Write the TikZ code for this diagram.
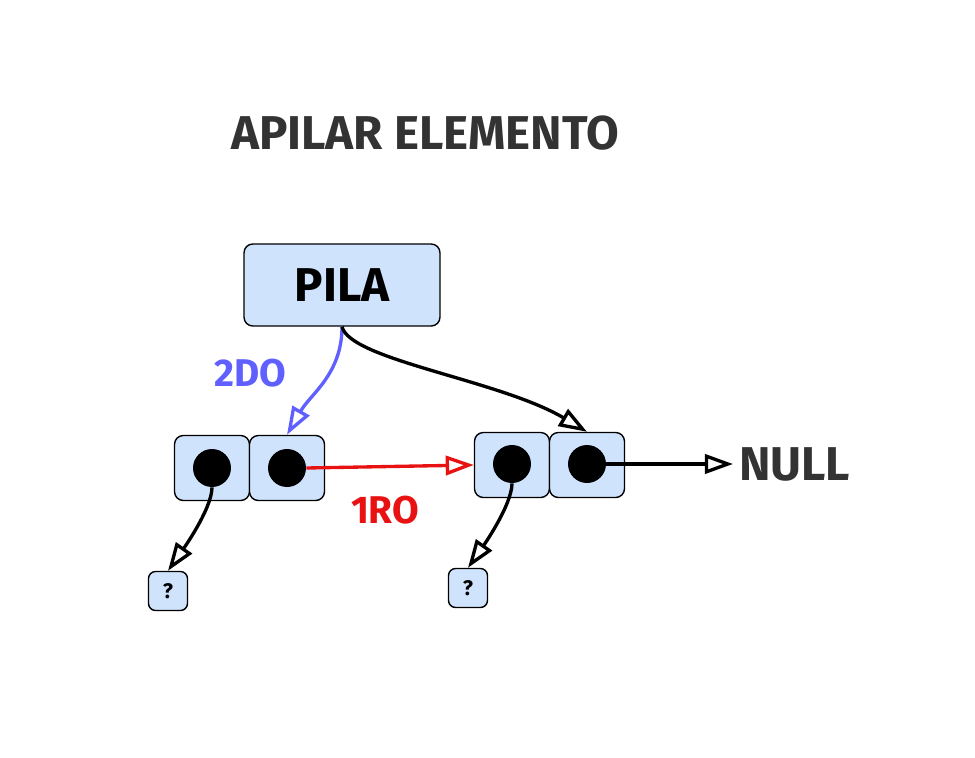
\documentclass[tikz,border=0pt]{standalone}
\usepackage{fontspec}
\setmainfont{Fira Sans}
\usetikzlibrary{positioning, arrows.meta}
\definecolor{boxfill}{RGB}{207,227,253}
\definecolor{inkgray}{RGB}{51,51,51}
\definecolor{segblue}{RGB}{96,96,255}
\definecolor{primred}{RGB}{232,18,18}
\tikzset{
	x=0.02cm, y=-0.02cm,
	line width = 1.9pt,
	>={Triangle[open, length=16pt, width=11pt]},
	cell/.style={
		draw,
		fill=boxfill,
		rounded corners=5pt,
		line width=.8pt,
		minimum width=1.5cm,
		minimum height=1.3cm,
		inner sep=0pt
	},
	dot/.style={
		circle,
		fill=black,
		minimum size=.76cm,
		inner sep=0pt
	},
	unknown/.style={
		draw,
		fill=boxfill,
		rounded corners=4pt,
		line width=.8pt,
		minimum size=.78cm,
		inner sep=0pt,
		font=\large\bfseries
	},
	big label/.style={
		font=\fontsize{27}{31}\selectfont\bfseries
	},
	arrow label/.style={
		font=\fontsize{22}{26}\selectfont\bfseries
	},
	link/.style={
		->,
		line width=1.9pt
	}
}

\begin{document}
\begin{tikzpicture}
		\useasboundingbox (0,0) rectangle (975,758);
		\node[big label, text=inkgray] at (425,133) (title) {APILAR ELEMENTO};
		\node[cell, minimum width=3.92cm, minimum height=1.64cm, big label] at (342,285) (pila) {PILA};
		% first node
		\node[cell] at (212,468) (a1) {};
		\node[cell] at (287,468) (a2) {};
		\node[dot] at (212,468) (ad1) {};
		\node[dot] at (287,468) (ad2) {};
		% second node
		\node[cell] at (512,465) (b1) {};
		\node[cell] at (587,465) (b2) {};
		\node[dot] at (512,464) (bd1) {};
		\node[dot] at (587,464) (bd2) {};
		\node[unknown] at (168,591) (qa) {?};
		\node[unknown] at (468,588) (qb) {?};
		\node[big label, text=inkgray, anchor=west] at (733,464) (null) {NULL};
		\node[arrow label, text=segblue] at (250,373) (second) {2DO};
		\node[arrow label, text=primred] at (385,510) (first) {1RO};
		\draw[link, segblue] (pila.south) to[out=-90, in=60] (a2.north);
		\draw[link] (pila.south) .. controls (350,360) and (500,380) .. (b2.north);
		\draw[link, primred] (ad2.east) -- (b1.west);
		\draw[link] (bd2.east) -- (null.west);
		\draw[link] (ad1.south) to[out=-90, in=55, looseness=.6] (qa.north);
		\draw[link] (bd1.south) to[out=-90, in=55, looseness=.6] (qb.north);
	\end{tikzpicture}
\end{document}
